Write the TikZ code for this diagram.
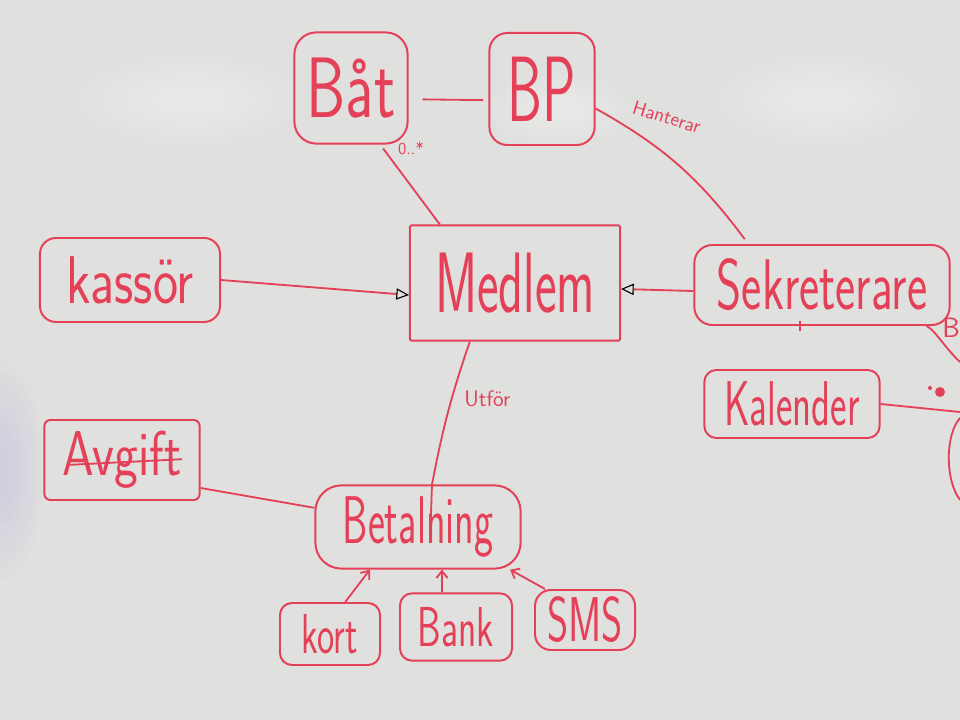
\documentclass[tikz,border=0pt]{standalone}
\usepackage{fontspec}
\usepackage{graphicx}
\usetikzlibrary{arrows.meta}
\definecolor{marker}{RGB}{228,64,88}
\definecolor{board}{RGB}{224,224,222}
\newcommand\hw[3]{\scalebox{#1}[1]{\fontsize{#2}{#2}\selectfont\sffamily #3}}
\begin{document}
\begin{tikzpicture}[x=0.025cm,y=-0.025cm,
  box/.style={draw=marker,line width=1.4pt,text=marker,inner sep=0pt},
  wire/.style={draw=marker,line width=1.3pt},
  lbl/.style={text=marker,inner sep=0pt},
  glow/.style={fill=white,opacity=0.05},
  openhead/.style={-{Triangle[open,color=black,length=9pt,width=8pt,line width=0.8pt]}},
  barb/.style={-{Straight Barb[length=5pt,width=8pt]}}]
% board
\fill[board] (0,0) rectangle (960,720);
\useasboundingbox (0,0) rectangle (960,720);
\foreach \s in {1,0.9,0.8,0.7,0.6,0.5,0.4,0.3,0.2} {
  \fill[glow] (190,100) ellipse [x radius=110*\s,y radius=45*\s];
  \fill[glow] (820,100) ellipse [x radius=100*\s,y radius=45*\s];
  \fill[glow] (560,110) ellipse [x radius=70*\s,y radius=35*\s];
  \fill[blue!40!white,opacity=0.025] (0,470) ellipse [x radius=45*\s,y radius=110*\s];
}
% nodes
\node[box,rounded corners=0.55cm,minimum width=2.83cm,minimum height=2.78cm] (bat) at (351,88) {\hw{0.73}{61pt}{Båt}};
\node[box,rounded corners=0.45cm,minimum width=2.63cm,minimum height=2.8cm] (bp) at (542,89) {\hw{0.6}{66pt}{BP}};
\node[box,rounded corners=1pt,minimum width=5.25cm,minimum height=2.88cm] (medlem) at (515,283) {\hw{0.6}{61pt}{Medlem}};
\node[box,rounded corners=0.4cm,minimum width=4.5cm,minimum height=2.1cm] (kassor) at (130,280) {\hw{0.79}{48pt}{kassör}};
\node[box,rounded corners=0.45cm,minimum width=6.38cm,minimum height=2.0cm] (sek) at (822,285) {\hw{0.67}{51pt}{Sekreterare}};
\node[box,rounded corners=0.3cm,minimum width=4.38cm,minimum height=1.7cm] (kal) at (792,404) {\hw{0.62}{45pt}{Kalender}};
\node[box,rounded corners=0.15cm,minimum width=3.88cm,minimum height=2.0cm] (avg) at (122,460) {\hw{0.8}{45pt}{Avgift}};
\node[box,rounded corners=0.65cm,minimum width=5.13cm,minimum height=2.08cm] (bet) at (418,527) {\hw{0.6}{48pt}{Betalning}};
\node[box,rounded corners=0.3cm,minimum width=2.5cm,minimum height=1.55cm] (kort) at (330,634) {\hw{0.65}{40pt}{kort}};
\node[box,rounded corners=0.3cm,minimum width=2.8cm,minimum height=1.68cm] (bank) at (456,627) {\hw{0.67}{40pt}{Bank}};
\node[box,rounded corners=0.4cm,minimum width=2.5cm,minimum height=1.5cm] (sms) at (585,620) {\hw{0.64}{45pt}{SMS}};
% strike through Avgift
\draw[wire] ([xshift=-1.3cm,yshift=-0.12cm]avg.center) -- ([xshift=1.5cm,yshift=0.02cm]avg.center);
% connectors
\draw[wire,shorten <=0.35cm,shorten >=0.13cm] ([yshift=-0.28cm]bat.east) -- ([yshift=-0.28cm]bp.west);
\draw[wire,shorten <=0.12cm] ([xshift=0.73cm]bat.south) -- ([xshift=-1.88cm]medlem.north)
  node[lbl,pos=0.05,right=0.35cm,font=\sffamily\fontsize{12pt}{12pt}\selectfont] {0..*};
\draw[wire,openhead] (kassor.east) -- ([yshift=-0.3cm]medlem.west);
\draw[wire,openhead] ([yshift=-0.15cm]sek.west) -- ([yshift=-0.15cm]medlem.east);
\draw[wire] ([xshift=-1.93cm,yshift=0.12cm]sek.north) to[bend right=12]
  node[lbl,pos=0.86,anchor=south west,xshift=0.2cm,yshift=0.25cm,rotate=-17,font=\sffamily\fontsize{14pt}{14pt}\selectfont] {Hanterar} (bp.-20);
\coordinate (betin) at ([xshift=0.3cm,yshift=-1.45cm]bet.north);
\draw[wire] ([xshift=-1.13cm]medlem.south) to[bend right=4]
  node[lbl,pos=0.4,right=0.3cm,font=\sffamily\fontsize{16pt}{16pt}\selectfont] {Utför} ([xshift=0.35cm]bet.north) -- (betin);
\draw[wire] ([yshift=-0.7cm]avg.east) -- ([yshift=0.48cm]bet.west);
\draw[wire,barb] ([xshift=0.38cm]kort.north) -- ([xshift=-1.2cm]bet.south);
\draw[wire,barb] ([xshift=-0.35cm]bank.north) -- ([xshift=0.6cm]bet.south);
\draw[wire,barb] ([xshift=-1.0cm]sms.north) -- ([xshift=2.3cm]bet.south);
% right edge
\coordinate (kalend) at (960,412);
\draw[wire] (kal.east) -- (kalend);
\fill[marker] (940,392) circle (5);
\fill[marker] (930,388) circle (2);
\coordinate (rb1) at (960,362);
\draw[wire] ([xshift=-0.6cm]sek.south east) .. controls (935,330) and (945,348) .. (rb1);
\node[lbl,font=\sffamily\fontsize{20pt}{20pt}\selectfont,anchor=west] (bcut) at (942,328) {B};
\coordinate (rb2a) at (960,418);
\coordinate (rb2b) at (960,500);
\draw[wire] (rb2a) .. controls (945,435) and (945,480) .. (rb2b);
\draw[wire] ([xshift=-0.55cm,yshift=-0.12cm]sek.south) -- ([xshift=-0.55cm,yshift=0.12cm]sek.south);
\end{tikzpicture}
\end{document}
